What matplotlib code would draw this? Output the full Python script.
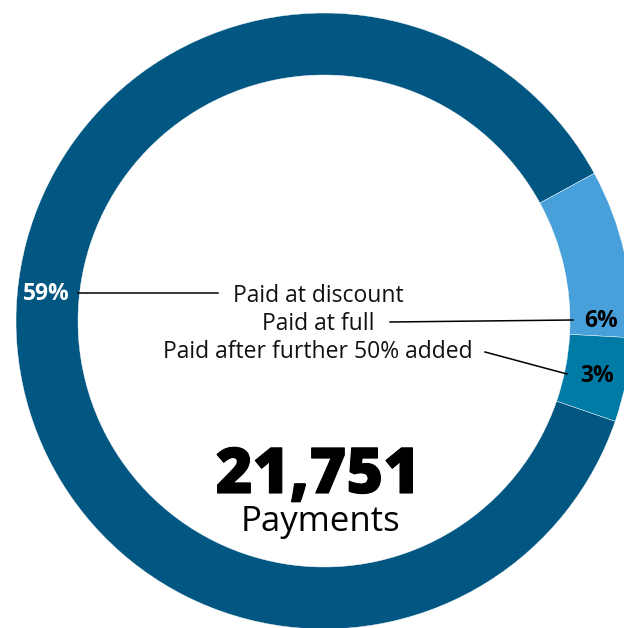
import matplotlib
matplotlib.use('Agg')
import matplotlib.pyplot as plt
import matplotlib.patheffects as pe

plt.rcParams['font.family'] = ['Open Sans', 'DejaVu Sans']

# payment outcome shares
categories = ['Paid at discount', 'Paid at full', 'Paid after further 50% added']
shares = [59, 6, 3]
share_labels = ['59%', '6%', '3%']
colors = ['#025682', '#48a0da', '#007ba6']
label_colors = ['white', 'black', 'black']
total_payments = '21,751'
total_caption = 'Payments'

W, H = 624, 628
fig = plt.figure(figsize=(W / 100, H / 100), dpi=100)
ax = fig.add_axes([0, 0, 1, 1])

cx, cy = 324, H - 321
r_out, ring = 308, 62

ax.pie(shares, colors=colors, startangle=341, counterclock=False,
       radius=r_out, center=(cx, cy), frame=True,
       wedgeprops=dict(width=ring, edgecolor='white', linewidth=0.3))

ax.set_xlim(0, W)
ax.set_ylim(0, H)
ax.set_aspect('equal')
ax.axis('off')

# percentage labels sitting in the ring (baseline positions)
pct_pos = [(46, 300), (601, 327), (597, 382)]
for (x, y), txt, c in zip(pct_pos, share_labels, label_colors):
    ax.text(x, H - y, txt, color=c, fontsize=16.5, fontweight='bold',
            ha='center', va='baseline')

# category labels, centred block
text_y = [302, 330, 358]
for y, txt in zip(text_y, categories):
    ax.text(318, H - y, txt, fontsize=16.5, ha='center', va='baseline',
            color='#111111')

# leader lines
leaders = [((78, 293), (218, 293)),
           ((390, 322), (573, 320)),
           ((485, 352), (567, 374))]
for (x0, y0), (x1, y1) in leaders:
    ax.plot([x0, x1], [H - y0, H - y1], color='black', lw=1.1)

# headline total, stroked a little to get an extra-bold weight
ax.text(318, H - 493, total_payments, fontsize=45.5, fontweight='heavy',
        ha='center', va='baseline', color='black',
        path_effects=[pe.withStroke(linewidth=0.8, foreground='black')])
ax.text(320, H - 531, total_caption, fontsize=25, ha='center', va='baseline',
        color='black')

fig.savefig('out.png', dpi=100)
